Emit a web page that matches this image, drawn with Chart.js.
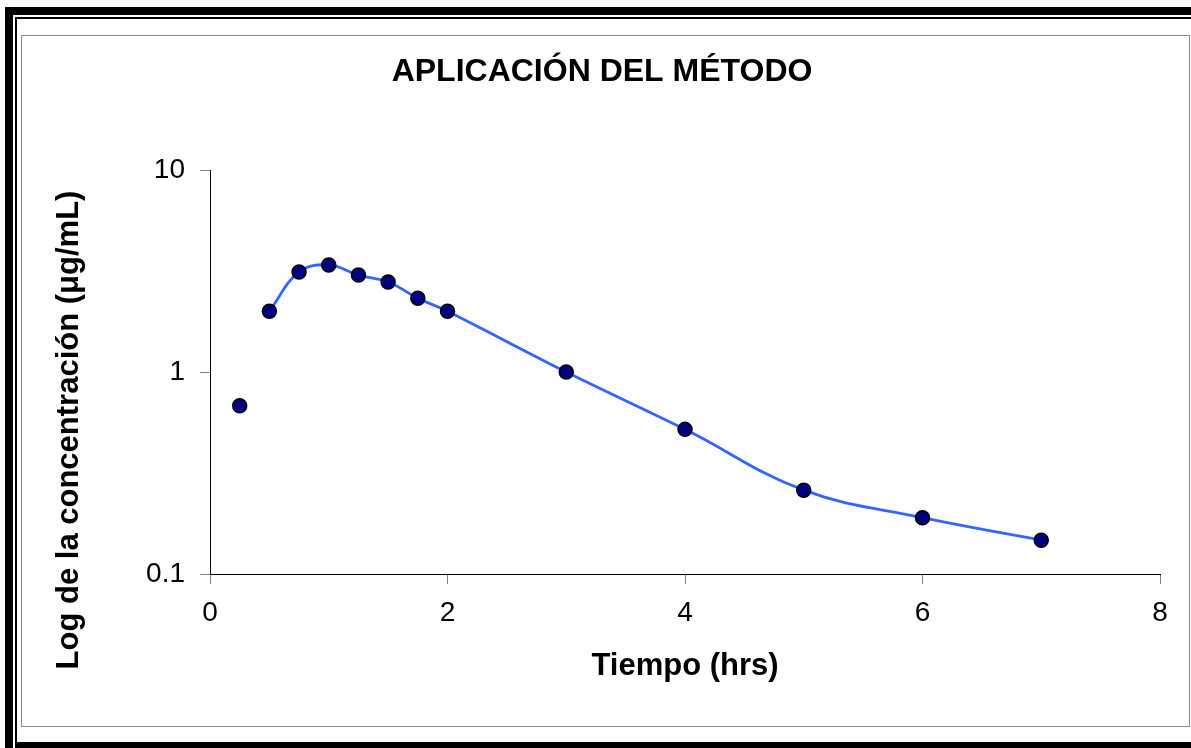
<!DOCTYPE html>
<html>
<head>
<meta charset="utf-8">
<script src="https://cdn.jsdelivr.net/npm/chart.js@4.4.0/dist/chart.umd.min.js"></script>
<style>
  html, body { margin: 0; padding: 0; background: #fff; overflow: hidden; }
  #wrap { position: relative; width: 1191px; height: 748px; overflow: hidden; background: #fff; }
  #c { position: absolute; left: 0; top: 0; }
  .fr { position: absolute; pointer-events: none; box-sizing: border-box; }
</style>
</head>
<body>
<div id="wrap">
  <canvas id="c" width="1191" height="748"></canvas>
  <div class="fr" style="left:5px;top:7px;width:1400px;height:1000px;border-left:8px solid #000;border-top:8px solid #000;"></div>
  <div class="fr" style="left:15px;top:17px;width:1400px;height:1000px;border-left:2px solid #000;border-top:2px solid #000;"></div>
  <div class="fr" style="left:15px;top:742px;width:1400px;height:20px;background:#000;"></div>
  <div class="fr" style="left:21px;top:35px;width:1169px;height:692px;border:1px solid #8c8c8c;"></div>
</div>
<script>
// ---- data ----
const chartTitle = 'APLICACIÓN DEL MÉTODO';
const xAxisTitle = 'Tiempo (hrs)';
const yAxisTitle = 'Log de la concentración (μg/mL)';

const timeHrs = [0.25, 0.5, 0.75, 1, 1.25, 1.5, 1.75, 2, 3, 4, 5, 6, 7];
const concentration = [0.68, 2.0, 3.13, 3.39, 3.02, 2.79, 2.32, 2.0, 1.0, 0.52, 0.26, 0.19, 0.147];

const fitTime = [0.5, 0.75, 1, 1.25, 1.5, 1.75, 2, 3, 4, 5, 6, 7];
const fitConc = [2.0, 3.13, 3.39, 3.02, 2.79, 2.32, 2.0, 1.0, 0.52, 0.26, 0.19, 0.147];

const xTicks = [0, 2, 4, 6, 8];
const yTicks = [0.1, 1, 10];

// ---- chart ----
const FONT = "'Liberation Sans', Arial, sans-serif";

const yTitlePlugin = {
  id: 'yTitle',
  afterDraw(chart) {
    const ctx = chart.ctx;
    ctx.save();
    ctx.translate(78, 430);
    ctx.rotate(-Math.PI / 2);
    ctx.font = 'bold 31px ' + FONT;
    ctx.fillStyle = '#000';
    ctx.textAlign = 'center';
    ctx.textBaseline = 'alphabetic';
    ctx.fillText(yAxisTitle, 0, 0);
    ctx.restore();
  }
};

new Chart(document.getElementById('c'), {
  type: 'scatter',
  data: {
    datasets: [
      {
        label: 'Concentración',
        data: timeHrs.map((t, i) => ({ x: t, y: concentration[i] })),
        showLine: false,
        pointRadius: 7,
        pointBackgroundColor: '#000080',
        pointBorderColor: '#000000',
        pointBorderWidth: 1.5
      },
      {
        label: 'Ajuste',
        data: fitTime.map((t, i) => ({ x: t, y: fitConc[i] })),
        showLine: true,
        pointRadius: 0,
        borderColor: '#3366ff',
        borderWidth: 2.8,
        tension: 0.4,
        fill: false
      }
    ]
  },
  options: {
    responsive: false,
    animation: false,
    layout: { padding: { left: 44, right: 31, top: 0, bottom: 0 } },
    plugins: {
      legend: { display: false },
      tooltip: { enabled: false },
      title: {
        display: true,
        text: chartTitle,
        color: '#000',
        font: { family: FONT, size: 32, weight: 'bold', lineHeight: 1.2 },
        padding: { top: 53, bottom: 78.6 }
      }
    },
    scales: {
      x: {
        type: 'linear',
        min: 0,
        max: 8,
        afterBuildTicks: s => { s.ticks = xTicks.map(v => ({ value: v })); },
        afterFit: s => { s.height = 174; },
        ticks: {
          color: '#000',
          font: { family: FONT, size: 28 },
          padding: 12,
          maxRotation: 0,
          callback: v => String(v)
        },
        grid: { display: true, drawOnChartArea: false, drawTicks: true, tickLength: 10, tickColor: '#808080', tickWidth: 1 },
        border: { display: true, color: '#000', width: 1 },
        title: {
          display: true,
          text: xAxisTitle,
          color: '#000',
          font: { family: FONT, size: 31, weight: 'bold', lineHeight: 1.2 },
          padding: { top: 0, bottom: 63 }
        }
      },
      y: {
        type: 'logarithmic',
        min: 0.1,
        max: 10,
        afterBuildTicks: s => { s.ticks = yTicks.map(v => ({ value: v })); },
        afterFit: s => { s.width = 166; },
        ticks: {
          color: '#000',
          font: { family: FONT, size: 28 },
          padding: 15,
          callback: v => String(v)
        },
        grid: { display: true, drawOnChartArea: false, drawTicks: true, tickLength: 10, tickColor: '#808080', tickWidth: 1 },
        border: { display: true, color: '#000', width: 1 },
        title: { display: false, text: yAxisTitle }
      }
    }
  },
  plugins: [yTitlePlugin]
});
</script>
</body>
</html>
